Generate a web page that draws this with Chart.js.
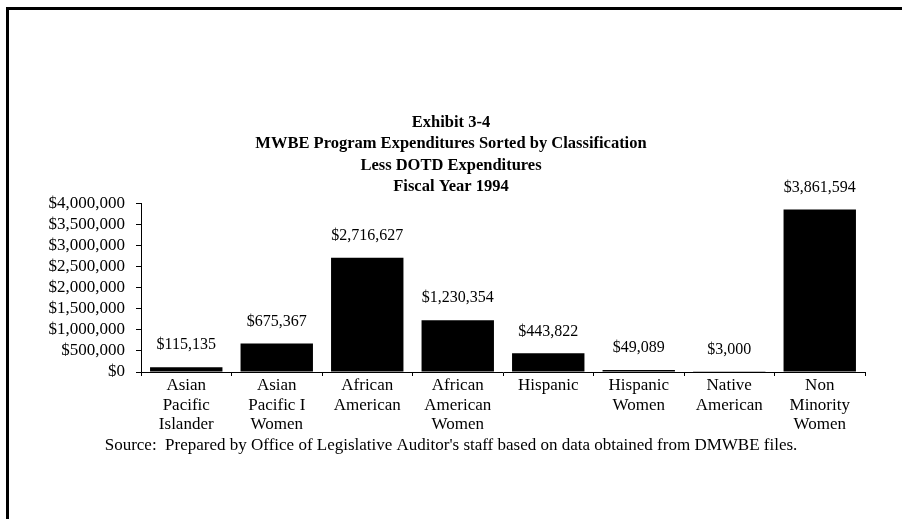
<!DOCTYPE html>
<html>
<head>
<meta charset="utf-8">
<script src="https://cdn.jsdelivr.net/npm/chart.js@4/dist/chart.umd.min.js"></script>
<style>
  html, body { margin: 0; padding: 0; background: #ffffff; }
  #wrap { width: 902px; height: 519px; }
</style>
</head>
<body>
<div id="wrap"><canvas id="mwbeChart" width="902" height="519"></canvas></div>
<script>
// === Chart data ===
const categories = [
  ["Asian", "Pacific", "Islander"],
  ["Asian", "Pacific I", "Women"],
  ["African", "American"],
  ["African", "American", "Women"],
  ["Hispanic"],
  ["Hispanic", "Women"],
  ["Native", "American"],
  ["Non", "Minority", "Women"],
];
const expenditures = [115135, 675367, 2716627, 1230354, 443822, 49089, 3000, 3861594];
const titleLines = [
  "Exhibit 3-4",
  "MWBE Program Expenditures Sorted by Classification",
  "Less DOTD Expenditures",
  "Fiscal Year 1994",
];
const sourceNote =
  "Source:  Prepared by Office of Legislative Auditor's staff based on data obtained from DMWBE files.";

const SERIF = "'Liberation Serif', 'Times New Roman', serif";

function money(v) {
  return "$" + Number(v).toLocaleString("en-US");
}

// === Frame lines round the exhibit (top and left edge) ===
const framePlugin = {
  id: "frame",
  beforeDraw(chart) {
    const ctx = chart.ctx;
    ctx.save();
    ctx.fillStyle = "#000";
    ctx.fillRect(7, 7, chart.width - 7, 3);
    ctx.fillRect(6, 7, 3, chart.height - 7);
    ctx.restore();
  },
};

// === Value labels above each bar ===
const valueLabels = {
  id: "valueLabels",
  afterDatasetsDraw(chart) {
    const ctx = chart.ctx;
    const meta = chart.getDatasetMeta(0);
    ctx.save();
    ctx.font = "16px " + SERIF;
    ctx.fillStyle = "#000";
    ctx.textAlign = "center";
    ctx.textBaseline = "middle";
    meta.data.forEach((bar, i) => {
      ctx.fillText(money(expenditures[i]), bar.x, bar.y - 22);
    });
    ctx.restore();
  },
};

new Chart(document.getElementById("mwbeChart"), {
  type: "bar",
  data: {
    labels: categories,
    datasets: [
      {
        data: expenditures,
        backgroundColor: "#000000",
        borderWidth: 0,
        barPercentage: 0.8,
        categoryPercentage: 1.0,
      },
    ],
  },
  options: {
    responsive: false,
    animation: false,
    events: [],
    layout: { padding: { top: 112, left: 37, right: 37, bottom: 63 } },
    plugins: {
      legend: { display: false },
      tooltip: { enabled: false },
      title: {
        display: true,
        text: titleLines,
        color: "#000",
        font: { family: SERIF, size: 16.5, weight: "bold", lineHeight: 1.3 },
        padding: { top: 0, bottom: 6 },
      },
      subtitle: {
        display: true,
        position: "bottom",
        text: sourceNote,
        color: "#000",
        font: { family: SERIF, size: 17, lineHeight: 1.2 },
        padding: { top: 1, bottom: 0 },
      },
    },
    scales: {
      x: {
        afterFit: (scale) => { scale.height = 62.6; },
        grid: {
          offset: true,
          drawOnChartArea: false,
          tickLength: 4,
          color: "#000",
        },
        border: { color: "#000", width: 1 },
        ticks: {
          color: "#000",
          padding: 0,
          maxRotation: 0,
          autoSkip: false,
          font: { family: SERIF, size: 17, lineHeight: 1.15 },
        },
      },
      y: {
        min: 0,
        max: 4000000,
        afterFit: (scale) => { scale.width = 104; },
        grid: { drawOnChartArea: false, tickLength: 5, color: "#000" },
        border: { color: "#000", width: 1 },
        ticks: {
          stepSize: 500000,
          autoSkip: false,
          color: "#000",
          padding: 11,
          font: { family: SERIF, size: 17 },
          callback: (v) => money(v),
        },
      },
    },
  },
  plugins: [framePlugin, valueLabels],
});
</script>
</body>
</html>
